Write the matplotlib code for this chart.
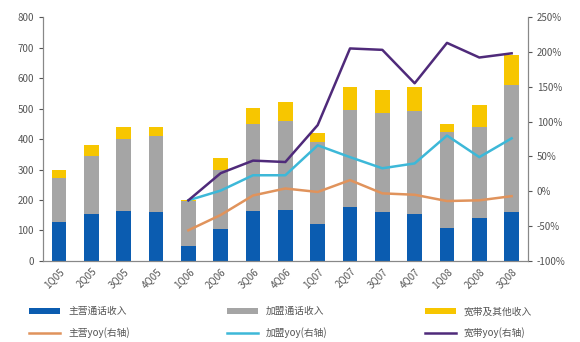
import matplotlib.pyplot as plt
import numpy as np

plt.rcParams['font.family'] = ['Noto Sans CJK SC', 'DejaVu Sans']

quarters = ['1Q05', '2Q05', '3Q05', '4Q05', '1Q06', '2Q06', '3Q06', '4Q06',
            '1Q07', '2Q07', '3Q07', '4Q07', '1Q08', '2Q08', '3Q08']
main_rev = [128, 155, 165, 160, 50, 105, 165, 168, 122, 178, 162, 155, 108, 140, 162]
franchise_rev = [145, 190, 235, 250, 148, 195, 285, 290, 268, 318, 325, 337, 315, 300, 415]
broadband_rev = [27, 35, 40, 30, 2, 38, 52, 62, 30, 74, 73, 78, 27, 72, 98]

# yoy growth (%), available from the 5th quarter on
main_yoy = [np.nan] * 4 + [-56, -34, -6, 4, -1, 16, -3, -5, -14, -13, -7]
franchise_yoy = [np.nan] * 4 + [-13, 1, 23, 23, 66, 49, 33, 40, 80, 49, 76]
broadband_yoy = [np.nan] * 4 + [-13, 26, 44, 42, 95, 205, 203, 155, 213, 192, 198]

labels = ['主营通话收入', '加盟通话收入', '宽带及其他收入',
          '主营yoy(右轴)', '加盟yoy(右轴)', '宽带yoy(右轴)']

c_blue = '#0b5cb0'
c_gray = '#a5a5a5'
c_yellow = '#f7c600'
c_orange = '#e0935c'
c_cyan = '#3db8d8'
c_purple = '#4f2a7a'
txt = '#555555'

fig = plt.figure(figsize=(5.8, 3.42), dpi=100)
ax = fig.add_axes([0.074, 0.237, 0.836, 0.713])
x = np.arange(len(quarters))
w = 0.45

main_rev = np.array(main_rev)
franchise_rev = np.array(franchise_rev)
b1 = ax.bar(x, main_rev, w, color=c_blue, label=labels[0])
b2 = ax.bar(x, franchise_rev, w, bottom=main_rev, color=c_gray, label=labels[1])
b3 = ax.bar(x, broadband_rev, w, bottom=main_rev + franchise_rev, color=c_yellow, label=labels[2])

ax.set_ylim(0, 800)
ax.set_yticks(range(0, 801, 100))
ax.set_xlim(-0.5, len(quarters) - 0.5)
ax.set_xticks(x)
ax.set_xticklabels(quarters, rotation=45, ha='right', rotation_mode='anchor')

ax2 = ax.twinx()
l1, = ax2.plot(x, main_yoy, color=c_orange, lw=1.8, label=labels[3])
l2, = ax2.plot(x, franchise_yoy, color=c_cyan, lw=1.8, label=labels[4])
l3, = ax2.plot(x, broadband_yoy, color=c_purple, lw=1.8, label=labels[5])
ax2.set_ylim(-100, 250)
ax2.set_yticks(range(-100, 251, 50))
ax2.set_yticklabels([f'{v}%' for v in range(-100, 251, 50)])

for a in (ax, ax2):
    a.spines['top'].set_visible(False)
    for s in a.spines.values():
        s.set_color('#888888')
    a.tick_params(labelsize=7, colors=txt, length=3)
ax.tick_params(axis='x', length=0)

# legend fills column by column, so interleave to get bars on row 1, lines on row 2
handles = [b1, l1, b2, l2, b3, l3]
order = [labels[0], labels[3], labels[1], labels[4], labels[2], labels[5]]
fig.legend(handles, order, loc='lower left', bbox_to_anchor=(0.035, -0.015),
           ncol=3, frameon=False, fontsize=7, labelcolor=txt,
           handlelength=3.2, handleheight=0.5, columnspacing=10.0,
           labelspacing=1.15)

fig.savefig('out.png', dpi=100)
